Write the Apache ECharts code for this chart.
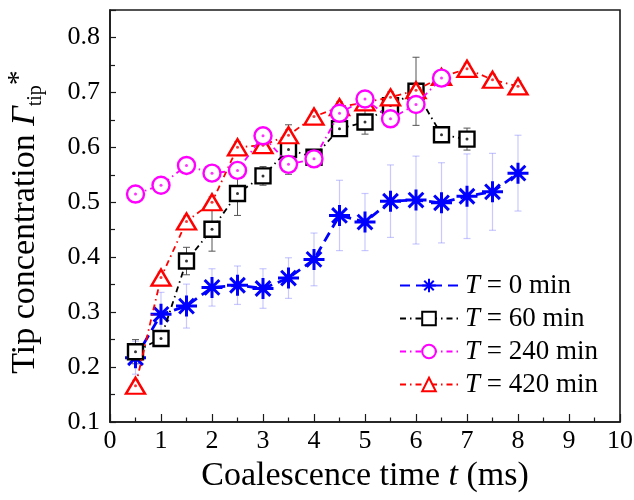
<!DOCTYPE html>
<html>
<head>
<meta charset="utf-8">
<script src="https://cdn.jsdelivr.net/npm/echarts@6/dist/echarts.min.js"></script>
<style>
  html, body { margin: 0; padding: 0; background: #fff; }
  #chart { width: 634px; height: 500px; }
</style>
</head>
<body>
<div id="chart"></div>
<script>
// Coalescence time (ms) sampled for every run
const times = [0.5, 1, 1.5, 2, 2.5, 3, 3.5, 4, 4.5, 5, 5.5, 6, 6.5, 7, 7.5, 8];

// Tip concentration and its standard deviation, per ageing time T
const tip0   = [0.217, 0.296, 0.311, 0.345, 0.349, 0.343, 0.362, 0.396, 0.476, 0.464, 0.502, 0.504, 0.499, 0.511, 0.519, 0.553];
const err0   = [0.030, 0.040, 0.040, 0.034, 0.035, 0.036, 0.037, 0.048, 0.064, 0.052, 0.066, 0.080, 0.073, 0.077, 0.070, 0.069];

const tip60  = [0.228, 0.252, 0.393, 0.451, 0.516, 0.548, 0.596, 0.582, 0.634, 0.646, 0.676, 0.702, 0.623, 0.615];
const err60  = [0.022, 0.010, 0.025, 0.040, 0.040, 0.017, 0.045, 0.010, 0.010, 0.022, 0.010, 0.062, 0.010, 0.020];

const tip240 = [0.515, 0.531, 0.567, 0.553, 0.558, 0.621, 0.569, 0.579, 0.662, 0.688, 0.652, 0.678, 0.726];
const err240 = [0.010, 0.010, 0.010, 0.010, 0.010, 0.010, 0.012, 0.010, 0.010, 0.010, 0.012, 0.012, 0.010];

const tip420 = [0.166, 0.363, 0.465, 0.500, 0.600, 0.604, 0.622, 0.656, 0.673, 0.682, 0.691, 0.704, 0.728, 0.743, 0.723, 0.711];
const err420 = [0.010, 0.010, 0.010, 0.010, 0.010, 0.010, 0.010, 0.010, 0.010, 0.010, 0.010, 0.010, 0.010, 0.010, 0.010, 0.010];

const seriesNames = ['T = 0 min', 'T = 60 min', 'T = 240 min', 'T = 420 min'];

const xTicks = { min: 0, max: 10, step: 1 };
const yTicks = { min: 0.1, max: 0.85, step: 0.1 };

const FONT = '"Liberation Serif", "DejaVu Serif", serif';

function pairs(vals) { return vals.map((v, i) => [times[i], v]); }
function triples(vals, errs) { return vals.map((v, i) => [times[i], v, errs[i]]); }

// Vertical error bar with short caps
function errorBarSeries(vals, errs, color, width, z) {
  return {
    type: 'custom',
    silent: true,
    z: z,
    data: triples(vals, errs),
    encode: { x: 0, y: 1 },
    renderItem: function (params, api) {
      const x = api.value(0), y = api.value(1), e = api.value(2);
      const top = api.coord([x, y + e]);
      const bot = api.coord([x, y - e]);
      const cap = 3.5;
      const st = { stroke: color, lineWidth: width };
      return {
        type: 'group',
        children: [
          { type: 'line', shape: { x1: top[0], y1: top[1], x2: bot[0], y2: bot[1] }, style: st },
          { type: 'line', shape: { x1: top[0] - cap, y1: top[1], x2: top[0] + cap, y2: top[1] }, style: st },
          { type: 'line', shape: { x1: bot[0] - cap, y1: bot[1], x2: bot[0] + cap, y2: bot[1] }, style: st }
        ]
      };
    }
  };
}

// Small dot in the middle of the open markers
function centreDots(vals, color, z) {
  return {
    type: 'scatter',
    silent: true,
    z: z,
    symbol: 'circle',
    symbolSize: 3,
    itemStyle: { color: color },
    data: pairs(vals)
  };
}

const starPath = 'path://M0,10L20,10M10,0L10,20M3,3L17,17M17,3L3,17';
const dashDot = [6, 4, 1.5, 4];

const chart = echarts.init(document.getElementById('chart'), null, { renderer: 'canvas' });

chart.setOption({
  animation: false,
  backgroundColor: '#fff',
  grid: {
    left: 110, right: 14, top: 10, bottom: 78,
    containLabel: false, outerBoundsMode: 'none',
    show: true, borderColor: '#1a1a1a', borderWidth: 1.6, backgroundColor: 'transparent'
  },
  legend: {
    data: seriesNames,
    orient: 'vertical',
    left: 394, top: 267,
    itemWidth: 58, itemHeight: 17, itemGap: 6,
    textStyle: {
      fontFamily: FONT, fontSize: 27, lineHeight: 27, color: '#000', padding: [0, 0, 0, 2],
      rich: { i: { fontFamily: FONT, fontSize: 27, lineHeight: 27, fontStyle: 'italic', color: '#000' } }
    },
    formatter: function (name) { return '{i|T}' + name.slice(1); }
  },
  xAxis: {
    type: 'value',
    min: xTicks.min, max: xTicks.max, interval: xTicks.step,
    name: 'Coalescence time {i|t} (ms)',
    nameLocation: 'middle', nameGap: 33,
    nameTextStyle: {
      fontFamily: FONT, fontSize: 34, color: '#000',
      rich: { i: { fontFamily: FONT, fontSize: 34, fontStyle: 'italic', color: '#000' } }
    },
    axisLine: { show: true, lineStyle: { color: '#1a1a1a', width: 1.6 } },
    axisTick: { show: true, inside: true, length: 8, lineStyle: { color: '#1a1a1a', width: 1.2 } },
    minorTick: { show: true, splitNumber: 2, length: 4.5, lineStyle: { color: '#1a1a1a', width: 1.2 } },
    axisLabel: { fontFamily: FONT, fontSize: 26, color: '#000', margin: 6 },
    splitLine: { show: false }
  },
  yAxis: {
    type: 'value',
    min: yTicks.min, max: yTicks.max, interval: yTicks.step,
    name: 'Tip concentration {g|Γ}{s|tip}{p|*}',
    nameLocation: 'middle', nameGap: 64, nameRotate: 90,
    nameTextStyle: {
      fontFamily: FONT, fontSize: 34, color: '#000', lineHeight: 42, padding: [0, 12, 0, 0],
      rich: {
        g: { fontFamily: FONT, fontSize: 34, fontStyle: 'italic', color: '#000', lineHeight: 42 },
        s: { fontFamily: FONT, fontSize: 20, color: '#000', verticalAlign: 'bottom', lineHeight: 42 },
        p: { fontFamily: FONT, fontSize: 30, color: '#000', verticalAlign: 'top', lineHeight: 42 }
      }
    },
    axisLine: { show: true, lineStyle: { color: '#1a1a1a', width: 1.6 } },
    axisTick: { show: true, inside: true, length: 6, lineStyle: { color: '#1a1a1a', width: 1.2 } },
    minorTick: { show: true, splitNumber: 2, length: 5, lineStyle: { color: '#1a1a1a', width: 1.2 } },
    axisLabel: {
      fontFamily: FONT, fontSize: 26, color: '#000', margin: 10, showMaxLabel: false,
      formatter: function (v) { return v > 0.81 ? '' : v.toFixed(1); }
    },
    splitLine: { show: false }
  },
  series: [
    errorBarSeries(tip0, err0, 'rgba(120,120,255,0.4)', 1.2, 1),
    errorBarSeries(tip60, err60, '#555', 1, 1),
    errorBarSeries(tip240, err240, '#888', 1, 1),
    errorBarSeries(tip420, err420, '#888', 1, 1),
    {
      name: seriesNames[0], type: 'line', z: 2,
      data: pairs(tip0),
      symbol: starPath, symbolSize: 21,
      itemStyle: { color: '#0000ff', borderColor: '#0000ff', borderWidth: 3 },
      lineStyle: { color: '#0000ff', width: 2.8, type: [10, 6] }
    },
    {
      name: seriesNames[1], type: 'line', z: 3,
      data: pairs(tip60),
      symbol: 'rect', symbolSize: 15,
      itemStyle: { color: '#fff', borderColor: '#000', borderWidth: 2.4 },
      lineStyle: { color: '#000', width: 1.8, type: dashDot }
    },
    centreDots(tip60, '#000', 3),
    {
      name: seriesNames[3], type: 'line', z: 4,
      data: pairs(tip420),
      symbol: 'triangle', symbolSize: [19, 16],
      itemStyle: { color: '#fff', borderColor: '#ff0000', borderWidth: 2.4 },
      lineStyle: { color: '#ff0000', width: 1.8, type: dashDot }
    },
    centreDots(tip420, '#ff0000', 4),
    {
      name: seriesNames[2], type: 'line', z: 5,
      data: pairs(tip240),
      symbol: 'circle', symbolSize: 17,
      itemStyle: { color: '#fff', borderColor: '#ff00ff', borderWidth: 2.4 },
      lineStyle: { color: '#ff00ff', width: 1.8, type: dashDot }
    },
    centreDots(tip240, '#ff00ff', 5)
  ]
});
</script>
</body>
</html>
